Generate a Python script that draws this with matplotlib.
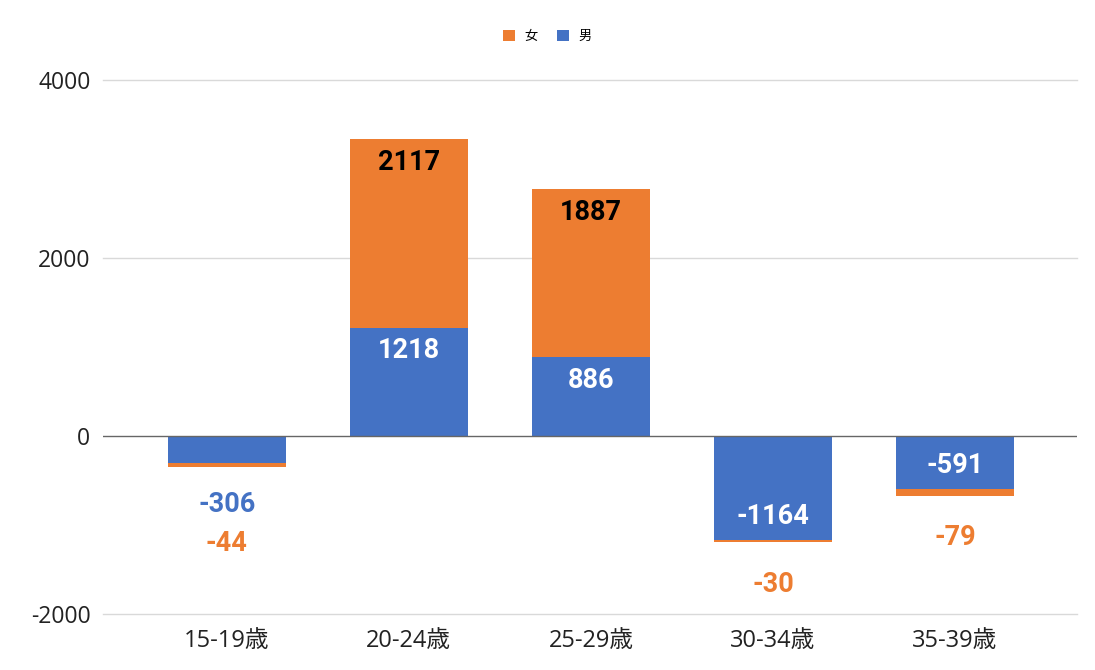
import matplotlib.pyplot as plt
import numpy as np

plt.rcParams['font.family'] = ['Open Sans', 'Noto Sans CJK JP', 'DejaVu Sans']
plt.rcParams['axes.unicode_minus'] = False

# data
categories = ['15-19歳', '20-24歳', '25-29歳', '30-34歳', '35-39歳']
male = [-306, 1218, 886, -1164, -591]
female = [-44, 2117, 1887, -30, -79]
series_names = ['女', '男']

c_male = '#4472C4'
c_female = '#ED7D31'

fig = plt.figure(figsize=(10.95, 6.7), dpi=100)
ax = fig.add_axes([0.094, 0.0836, 0.8896, 0.797])

x = np.arange(len(categories))
w = 0.65
b_m = ax.bar(x, male, w, color=c_male, zorder=3)
b_f = ax.bar(x, female, w, bottom=male, color=c_female, zorder=3)

ax.set_ylim(-2000, 4000)
ax.set_xlim(-0.68, 4.67)
ax.set_yticks([-2000, 0, 2000, 4000])
ax.set_xticks(x)
ax.set_xticklabels(categories)
ax.tick_params(axis='y', length=0, labelsize=16.5, colors='#222222', pad=9)
ax.tick_params(axis='x', length=0, labelsize=17, colors='#222222', pad=11)
for s in ax.spines.values():
    s.set_visible(False)
for yv in [-2000, 2000, 4000]:
    ax.axhline(yv, color='#d9d9d9', linewidth=1, zorder=0, clip_on=False)
ax.axhline(0, color='#666666', linewidth=1, zorder=4)

# data labels (inside when it fits, else stacked outside)
px = 0.72  # points per pixel
ppu = 534 / 6000  # pixels per data unit
lab_font = dict(family=['Roboto', 'DejaVu Sans'], fontweight='bold', fontsize=19.5)
for i in range(len(categories)):
    segs = [(male[i], 0, c_male, 'white'), (female[i], male[i], c_female, 'black')]
    total = male[i] + female[i]
    sign = 1 if total >= 0 else -1
    n_out = 0
    for val, base, col, txtcol in segs:
        end = base + val
        if abs(val) * ppu > 40:
            ax.annotate(str(val), (x[i], end), xytext=(0, -sign * 23 * px),
                        textcoords='offset points', ha='center', va='center',
                        color=txtcol, zorder=5, **lab_font)
        else:
            off = 37 + 39 * n_out if i == 0 else 42
            n_out += 1
            ax.annotate(str(val), (x[i], total), xytext=(0, sign * off * px),
                        textcoords='offset points', ha='center', va='center',
                        color=col, zorder=5, **lab_font)

leg = fig.legend([b_f, b_m], series_names, loc='center', bbox_to_anchor=(0.5, 0.946),
                 ncol=2, frameon=False, handlelength=0.9, handleheight=0.9,
                 handletextpad=0.7, columnspacing=1.5,
                 prop={'family': ['Noto Sans CJK JP', 'DejaVu Sans'], 'size': 9.5})

fig.savefig('out.png', dpi=100)
